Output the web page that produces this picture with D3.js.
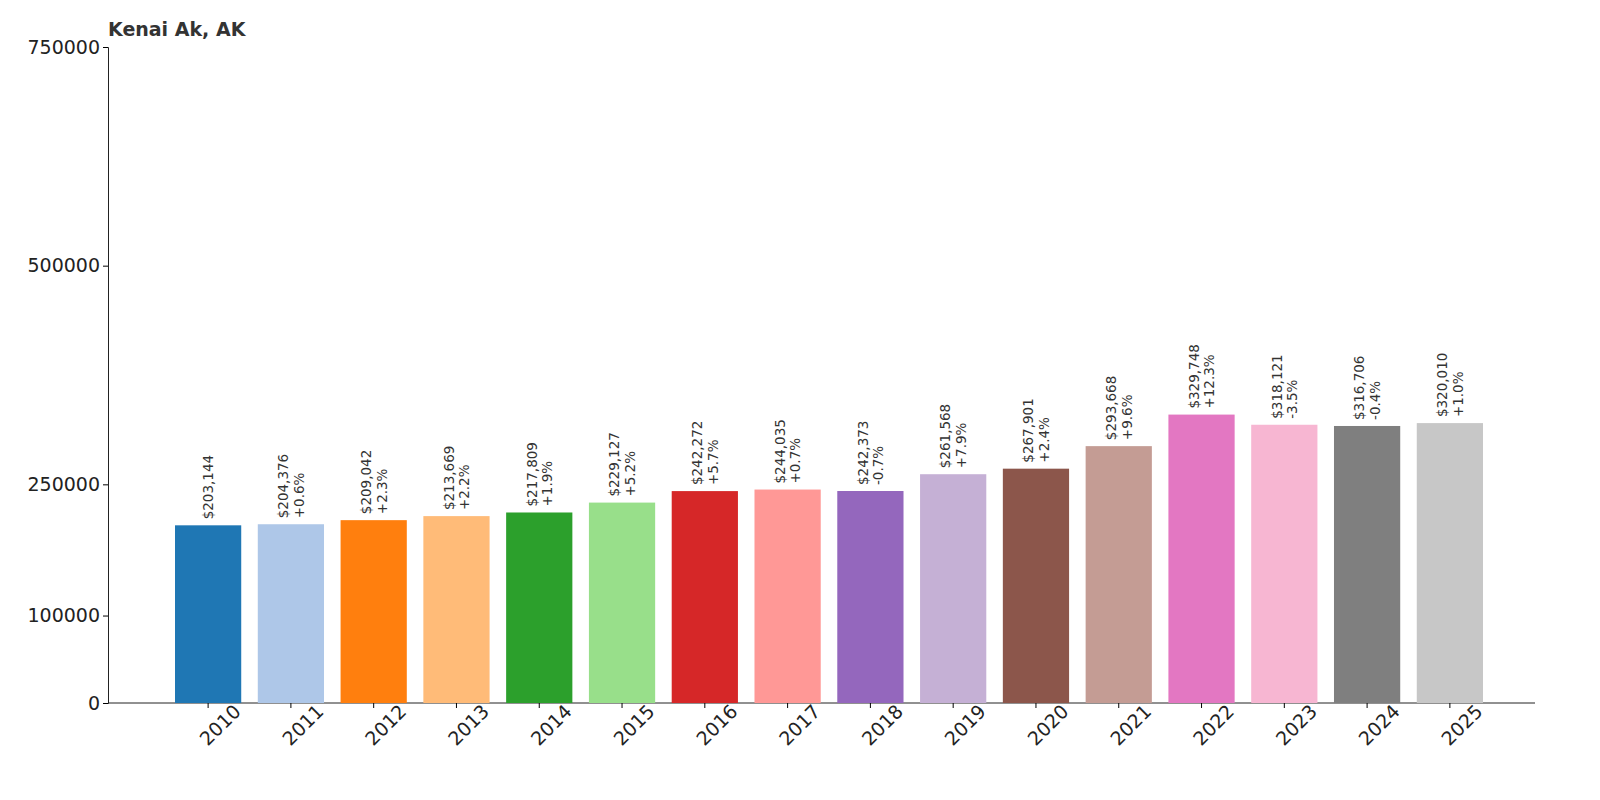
<!DOCTYPE html>
<html><head><meta charset="utf-8">
<script src="https://cdn.jsdelivr.net/npm/d3@7"></script>
<style>body{margin:0;background:#fff;font-family:"DejaVu Sans",sans-serif;}</style>
</head><body><div id="chart"></div>
<script>
const years = ["2010","2011","2012","2013","2014","2015","2016","2017","2018","2019","2020","2021","2022","2023","2024","2025"];
const values = [203144,204376,209042,213669,217809,229127,242272,244035,242373,261568,267901,293668,329748,318121,316706,320010];
const changes = ["","+0.6%","+2.3%","+2.2%","+1.9%","+5.2%","+5.7%","+0.7%","-0.7%","+7.9%","+2.4%","+9.6%","+12.3%","-3.5%","-0.4%","+1.0%"];
const yTicks = [0,100000,250000,500000,750000];
const colors = ["#1f77b4","#aec7e8","#ff7f0e","#ffbb78","#2ca02c","#98df8a","#d62728","#ff9896","#9467bd","#c5b0d5","#8c564b","#c49c94","#e377c2","#f7b6d2","#7f7f7f","#c7c7c7"];

const svg = d3.select("#chart").append("svg").attr("width",1600).attr("height",800);
const x = d3.scaleBand().domain(years).range([175,1483]).paddingInner(0.2).paddingOuter(0);
const y = d3.scaleLinear().domain([0,750000]).range([703,47]);

svg.append("g").attr("transform","translate(108,0)")
  .call(d3.axisLeft(y).tickValues(yTicks).tickFormat(d3.format("d")).tickSize(5))
  .call(g=>g.selectAll("text").attr("font-size",19).attr("fill","#222").attr("font-family","DejaVu Sans"))
  .call(g=>g.select(".domain").attr("stroke","#222"));

svg.append("line").attr("x1",108).attr("x2",1535).attr("y1",703).attr("y2",703).attr("stroke","#222");
const xa = svg.append("g").attr("transform","translate(0,703)")
  .call(d3.axisBottom(x).tickSize(5));
xa.select(".domain").remove();
xa.selectAll("text").attr("font-size",19).attr("fill","#222").attr("font-family","DejaVu Sans")
  .attr("text-anchor","end").attr("transform","rotate(-45)").attr("dx","0.9em").attr("dy","1.2em");

svg.selectAll("rect.bar").data(values).join("rect").attr("class","bar")
  .attr("x",(d,i)=>x(years[i])).attr("y",d=>y(d))
  .attr("width",x.bandwidth()).attr("height",d=>703-y(d))
  .attr("fill",(d,i)=>colors[i]);

const fmt = d3.format(",");
values.forEach((v,i)=>{
  const cx = x(years[i]) + x.bandwidth()/2;
  const t = svg.append("text").attr("transform",`translate(${cx},${y(v)-6}) rotate(-90)`)
    .attr("font-size",13.5).attr("fill","#333").attr("font-family","DejaVu Sans");
  if (changes[i]) {
    t.append("tspan").attr("x",0).attr("dy","-0.2em").text("$"+fmt(v));
    t.append("tspan").attr("x",0).attr("dy","1.15em").text(changes[i]);
  } else {
    t.append("tspan").attr("x",0).attr("dy","0.35em").text("$"+fmt(v));
  }
});

svg.append("text").attr("x",108).attr("y",36).attr("font-size",19).attr("font-weight","bold")
  .attr("fill","#333").text("Kenai Ak, AK");
</script></body></html>
